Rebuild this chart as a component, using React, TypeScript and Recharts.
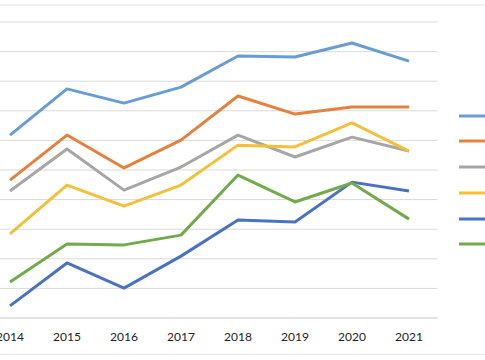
import { LineChart, Line, XAxis, YAxis, CartesianGrid, Legend } from "recharts";

const YEARS = ["2014", "2015", "2016", "2017", "2018", "2019", "2020", "2021"];

// legend names fall outside the visible crop, so only the swatches are drawn
const SERIES_NAMES = ["Series1", "Series2", "Series3", "Series4", "Series5", "Series6"];
const COLORS = ["#689CD6", "#E5803D", "#A6A6A6", "#F4C03A", "#4A72C4", "#72AB4C"];

const SERIES_1 = [6.18, 7.74, 7.26, 7.8, 8.85, 8.82, 9.29, 8.68];
const SERIES_2 = [4.66, 6.18, 5.07, 6.01, 7.5, 6.89, 7.13, 7.13];
const SERIES_3 = [4.29, 5.71, 4.32, 5.1, 6.18, 5.44, 6.11, 5.64];
const SERIES_4 = [2.84, 4.49, 3.78, 4.49, 5.84, 5.78, 6.59, 5.64];
const SERIES_5 = [0.41, 1.86, 1.01, 2.09, 3.31, 3.24, 4.59, 4.29];
const SERIES_6 = [1.22, 2.5, 2.47, 2.8, 4.83, 3.92, 4.56, 3.34];

const Y_TICKS = [0, 1, 2, 3, 4, 5, 6, 7, 8, 9, 10];

const ALL = [SERIES_1, SERIES_2, SERIES_3, SERIES_4, SERIES_5, SERIES_6];

const data = YEARS.map((year, i) => {
  const row: any = { year };
  ALL.forEach((s, k) => {
    row[SERIES_NAMES[k]] = s[i];
  });
  return row;
});

const FONT = "Lato, 'Liberation Sans', sans-serif";

function LegendBox(props: any) {
  const payload = props.payload || [];
  return (
    <div style={{ width: 60, paddingLeft: 21, boxSizing: "border-box" }}>
      {payload.map((p: any) => (
        <div key={p.value} style={{ height: 25.8, display: "flex", alignItems: "center" }}>
          <svg width={27} height={4} style={{ flexShrink: 0 }}>
            <line x1={0} y1={2} x2={27} y2={2} stroke={p.color} strokeWidth={3} />
          </svg>
        </div>
      ))}
    </div>
  );
}

export default function App() {
  return (
    <div
      style={{
        position: "fixed",
        left: 0,
        top: 0,
        width: 485,
        height: 360,
        overflow: "hidden",
        background: "#fff",
      }}
    >
      {/* chart frame, mostly cropped */}
      <div
        style={{
          position: "absolute",
          left: -5,
          right: -5,
          top: 4,
          height: 348,
          borderTop: "2px solid #f1f1f1",
          borderBottom: "1px solid #e6e6e6",
        }}
      />
      <div style={{ position: "absolute", left: -100, top: 0 }}>
        <LineChart
          width={600}
          height={360}
          data={data}
          margin={{ top: 22, right: 2.5, bottom: 12, left: 81.5 }}
        >
          <CartesianGrid vertical={false} stroke="#d9d9d9" strokeWidth={1} />
          <XAxis
            dataKey="year"
            padding={{ left: 28.5, right: 28.5 }}
            axisLine={{ stroke: "#d9d9d9" }}
            tickLine={false}
            tickMargin={8}
            tick={{ fill: "#222", fontSize: 12, fontFamily: FONT }}
            interval={0}
          />
          <YAxis hide domain={[0, 10]} ticks={Y_TICKS} />
          <Legend
            layout="vertical"
            align="right"
            verticalAlign="middle"
            content={<LegendBox />}
          />
          {SERIES_NAMES.map((name, k) => (
            <Line
              key={name}
              type="linear"
              dataKey={name}
              stroke={COLORS[k]}
              strokeWidth={3}
              dot={false}
              activeDot={false}
              strokeLinejoin="round"
              isAnimationActive={false}
            />
          ))}
        </LineChart>
      </div>
    </div>
  );
}
